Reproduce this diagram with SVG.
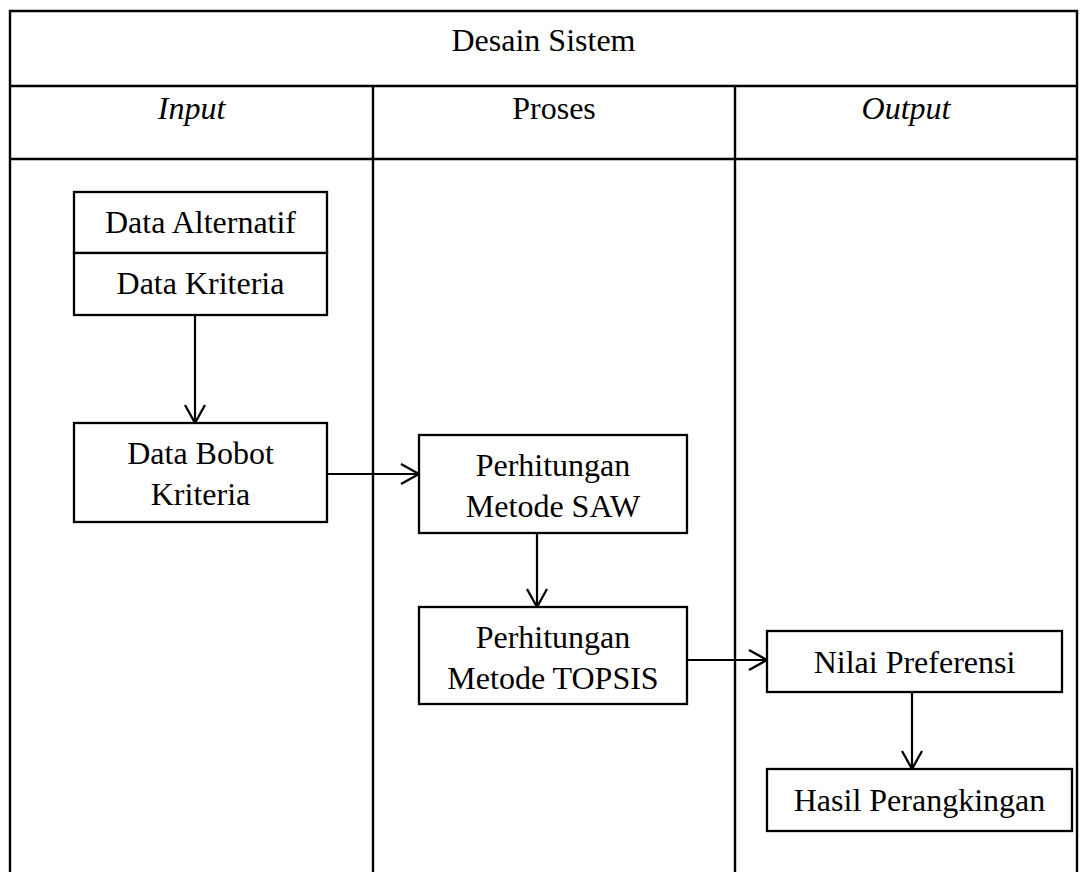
<svg xmlns="http://www.w3.org/2000/svg" width="1086" height="872" viewBox="0 0 1086 872">
<style>
.tbl{stroke:#000;stroke-width:2.4;fill:none}
.box{stroke:#000;stroke-width:2.3;fill:#fff}
.con{stroke:#000;stroke-width:2.2;fill:none}
text{font-family:"Liberation Serif","Times New Roman",serif;font-size:32px;fill:#000;text-anchor:middle}
.it{font-style:italic}
</style>
<defs>
<marker id="arr" markerUnits="userSpaceOnUse" viewBox="0 0 20 24" refX="19" refY="12" markerWidth="20" markerHeight="24" orient="auto">
<path d="M1,2 L19,12 L1,22" fill="none" stroke="#000" stroke-width="2.3"/>
</marker>
</defs>
<rect width="1086" height="872" fill="#fff"/>
<g id="table">
<path class="tbl" d="M10,873 V11 H1077 V873 M10,86 H1077 M10,159 H1077 M373,86 V873 M735,86 V873"/>
<text x="543.5" y="51">Desain Sistem</text>
<text class="it" x="191.5" y="119">Input</text>
<text x="554" y="119">Proses</text>
<text class="it" x="906" y="119">Output</text>
</g>
<g id="connectors">
<line class="con" x1="195" y1="315" x2="195" y2="423" marker-end="url(#arr)"/>
<line class="con" x1="327" y1="474" x2="419" y2="474" marker-end="url(#arr)"/>
<line class="con" x1="537" y1="533" x2="537" y2="607" marker-end="url(#arr)"/>
<line class="con" x1="687" y1="660" x2="767" y2="660" marker-end="url(#arr)"/>
<line class="con" x1="912" y1="693" x2="912" y2="769" marker-end="url(#arr)"/>
</g>
<g id="data-alternatif">
<rect class="box" x="74" y="192" width="253" height="61"/>
<text x="200.5" y="233">Data Alternatif</text>
</g>
<g id="data-kriteria">
<rect class="box" x="74" y="253" width="253" height="62"/>
<text x="200.5" y="294">Data Kriteria</text>
</g>
<g id="data-bobot">
<rect class="box" x="74" y="423" width="253" height="99"/>
<text x="200.5" y="464">Data Bobot</text>
<text x="200.5" y="505">Kriteria</text>
</g>
<g id="saw">
<rect class="box" x="419" y="435" width="268" height="98"/>
<text x="553" y="476">Perhitungan</text>
<text x="553" y="517">Metode SAW</text>
</g>
<g id="topsis">
<rect class="box" x="419" y="607" width="268" height="97"/>
<text x="553" y="648">Perhitungan</text>
<text x="553" y="689">Metode TOPSIS</text>
</g>
<g id="nilai">
<rect class="box" x="767" y="631" width="295" height="61"/>
<text x="914.5" y="673">Nilai Preferensi</text>
</g>
<g id="hasil">
<rect class="box" x="767" y="769" width="305" height="62"/>
<text x="919.5" y="811">Hasil Perangkingan</text>
</g>
</svg>
